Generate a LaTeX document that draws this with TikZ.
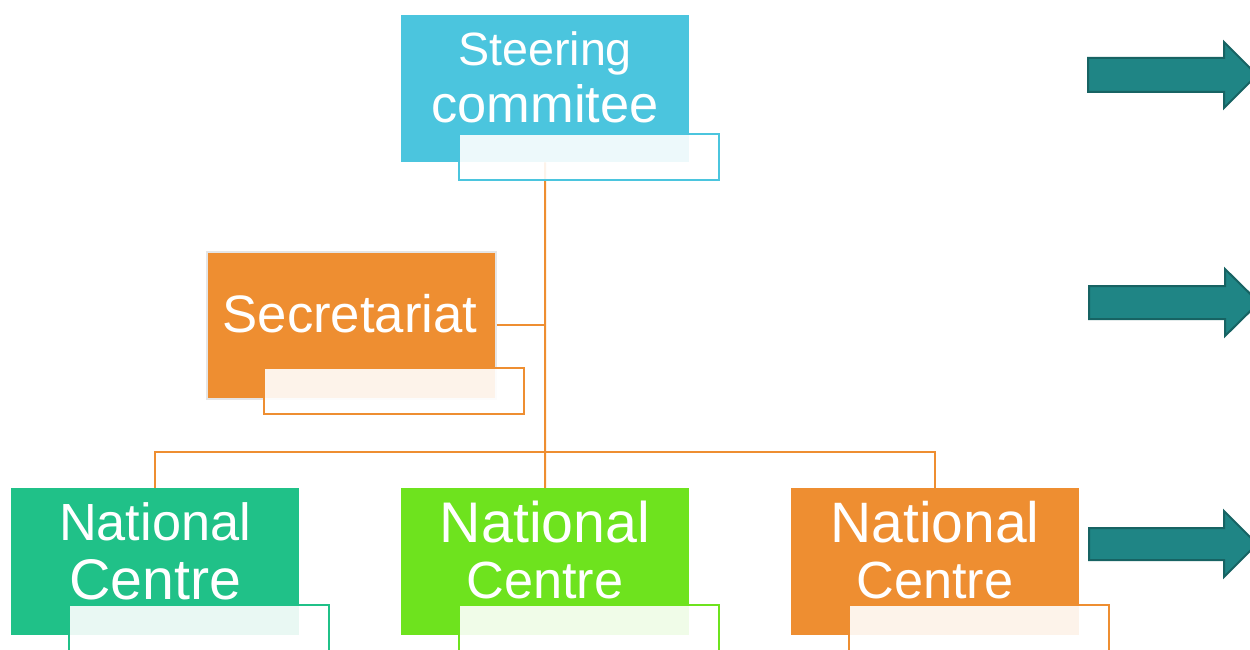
\documentclass[tikz,border=0pt]{standalone}
\usepackage{fontspec}
\setmainfont{Liberation Sans}
\definecolor{cyanC}{HTML}{4BC5DE}
\definecolor{orgC}{HTML}{EE8E31}
\definecolor{grnA}{HTML}{20C188}
\definecolor{grnB}{HTML}{6EE31E}
\definecolor{tealC}{HTML}{1F8585}
\definecolor{tealD}{HTML}{176363}
\newcommand{\fs}[1]{\fontsize{#1}{#1}\selectfont}
\begin{document}
\begin{tikzpicture}[x=1pt,y=-1pt,
  box/.style={draw=none, minimum width=288pt, minimum height=147pt, inner sep=0pt, anchor=north west},
  frame/.style={fill=white, fill opacity=0.9, line width=2pt, minimum width=260pt, minimum height=46pt, inner sep=0pt, anchor=north west},
  wire/.style={draw=orgC, line width=2pt},
  lbl/.style={text=white, anchor=base, inner sep=0pt},
  bigarrow/.style={fill=tealC, draw=tealD, line width=2pt, line join=miter}]
\useasboundingbox (0,0) rectangle (1250,650);
\clip (0,0) rectangle (1250,650);
% boxes
\node[box, fill=cyanC] (sc) at (401,15) {};
\node[box, fill=orgC, draw=black!10, line width=2pt, minimum width=289pt, minimum height=147pt] (sec) at (205.5,250.5) {};
\node[box, fill=grnA] (nc1) at (11,488) {};
\node[box, fill=grnB] (nc2) at (401,488) {};
\node[box, fill=orgC] (nc3) at (791,488) {};
% connectors
\coordinate (bus) at (545,452);
\draw[wire] (sc.south) -- (bus);
\draw[wire] (sec.east) -- (sec.east -| bus);
\draw[wire] (nc1.north) |- (bus) -| (nc3.north);
\draw[wire] (bus) -- (nc2.north);
% frames
\node[frame, draw=cyanC] (scf) at (458,133) {};
\node[frame, draw=orgC] (secf) at (263,367) {};
\node[frame, draw=grnA] (nc1f) at (68,604) {};
\node[frame, draw=grnB] (nc2f) at (458,604) {};
\node[frame, draw=orgC] (nc3f) at (848,604) {};
% labels
\node[lbl, font=\fs{46.7}] (scl1) at (545,66) {Steering};
\node[lbl, font=\fs{52.4}] (scl2) at (545,123) {commitee};
\node[lbl, font=\fs{52.7}] (secl) at (350,332) {Secretariat};
\node[lbl, font=\fs{52.3}] (nc1l1) at (155,540) {National};
\node[lbl, font=\fs{57.3}] (nc1l2) at (155,599) {Centre};
\node[lbl, font=\fs{57.3}] (nc2l1) at (545,542) {National};
\node[lbl, font=\fs{52.3}] (nc2l2) at (545,598) {Centre};
\node[lbl, font=\fs{57.0}] (nc3l1) at (935,542) {National};
\node[lbl, font=\fs{52.3}] (nc3l2) at (935,598) {Centre};
% arrows
\draw[bigarrow] (1088,58) -- (1224,58) -- (1224,42) -- (1257,75) -- (1224,108) -- (1224,92) -- (1088,92) -- cycle;
\draw[bigarrow] (1089,286) -- (1225,286) -- (1225,269) -- (1259,302.5) -- (1225,336) -- (1225,319) -- (1089,319) -- cycle;
\draw[bigarrow] (1089,528) -- (1224,528) -- (1224,511) -- (1257,544) -- (1224,577) -- (1224,560) -- (1089,560) -- cycle;
\end{tikzpicture}
\end{document}
